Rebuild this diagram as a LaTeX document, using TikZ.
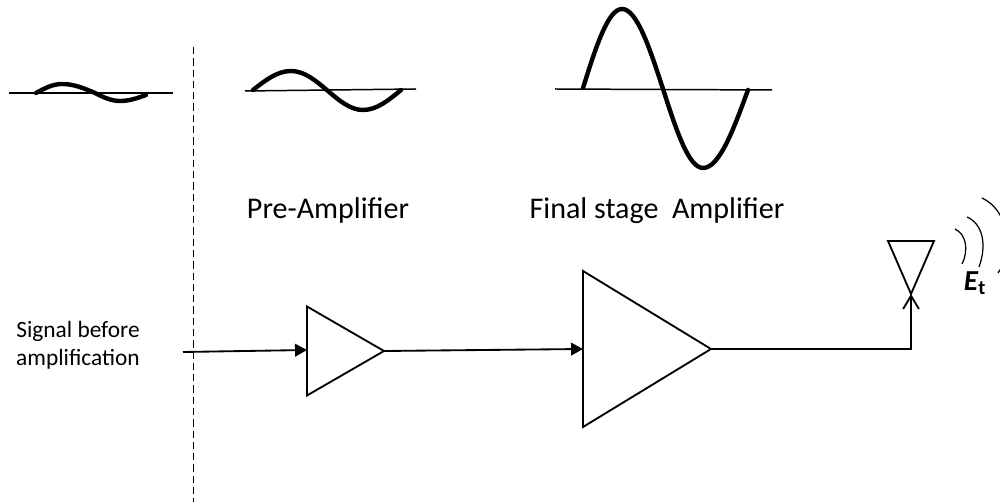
\documentclass[tikz,border=0pt]{standalone}
\usepackage{fontspec}
\setmainfont{Carlito}
\usetikzlibrary{arrows.meta,positioning,shapes.geometric}

\begin{document}
\begin{tikzpicture}[
  x=0.02cm, y=-0.02cm,
  amp/.style={isosceles triangle, isosceles triangle stretches, draw, line width=1.05pt,
    inner sep=0pt, outer sep=0pt, shape border uses incircle=false},
  axis/.style={line width=0.85pt},
  wave/.style={line width=2.5pt, line cap=round},
  conn/.style={line width=1.05pt},
  bigtext/.style={font=\fontsize{17.1pt}{20pt}\selectfont, inner sep=0pt, anchor=base},
  smalltext/.style={font=\fontsize{13.3pt}{16pt}\selectfont, inner sep=0pt, align=center}
]
\useasboundingbox (0,0) rectangle (1000,502);
\clip (0,0) rectangle (1000,502);

% input level
\draw[axis] (9,93) -- (173,93);
\draw[wave] (36,93) sin (62,84) cos (95,93) sin (120,101) cos (146,95);

% dashed divider
\draw[line width=0.95pt, dash pattern=on 4.15pt off 2.27pt] (193.5,47) -- (193.5,502);

% after the first stage
\draw[axis] (245,91) -- (416,89);
\draw[wave] (253,90) sin (291,71) cos (328,91) sin (363,110) cos (401,90);

% after the last stage
\draw[axis] (555,89) -- (772,90);
\draw[wave] (583,88) sin (622,9) cos (663,89) sin (703,168) cos (748,90);

\node[bigtext] (prelabel) at (328,219) {Pre-Amplifier};
\node[bigtext] (finallabel) at (657,219) {Final stage\ \ Amplifier};
\node[smalltext] (siglabel) at (78,345) {Signal before\\amplification};

\node[amp, minimum height=77*0.02cm, minimum width=89*0.02cm, anchor=apex] (preamp) at (384,351) {};
\node[amp, minimum height=128*0.02cm, minimum width=156*0.02cm, anchor=apex] (finalamp) at (711,349) {};
\node[amp, shape border rotate=270, minimum height=53*0.02cm, minimum width=46*0.02cm, anchor=apex] (antenna) at (911,294) {};

\coordinate (sigin) at (183,352);
\draw[conn, -{Triangle[length=6.8pt,width=7.2pt]}] (sigin) -- (preamp.west |- 0,350);
\draw[conn, -{Triangle[length=6.8pt,width=7.2pt]}] (preamp.apex) -- (finalamp.west |- 0,349);
\draw[conn, -{Straight Barb[length=7.5pt,width=9pt]}] (finalamp.apex) -| (antenna.apex);

% radiated field
\draw[line width=0.7pt] (955,229) .. controls (966,234) and (969,250) .. (962,264);
\draw[line width=0.7pt] (967,217) .. controls (983,224) and (987,245) .. (979,267);
\draw[line width=0.7pt] (982,198) .. controls (1008,210) and (1015,250) .. (998,273);
\node[inner sep=0pt, font=\fontsize{16.5pt}{18pt}\selectfont] (fieldlabel) at (975,283) {\textbf{\textit{E}\textsubscript{t}}};
\end{tikzpicture}
\end{document}
